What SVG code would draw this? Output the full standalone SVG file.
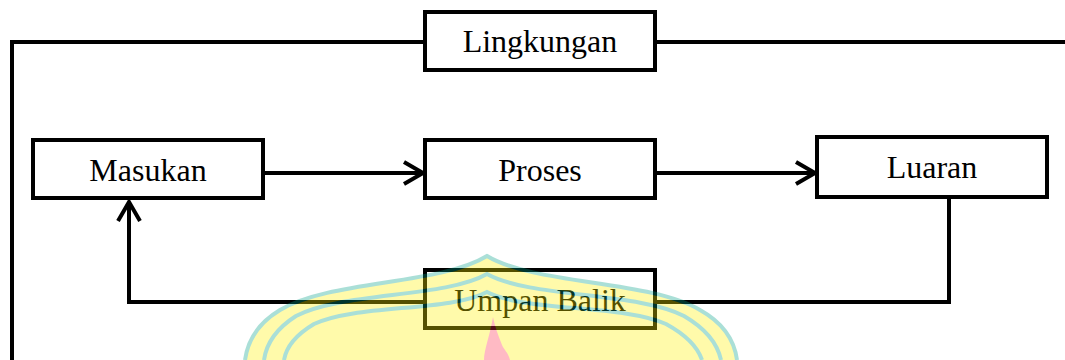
<svg xmlns="http://www.w3.org/2000/svg" width="1065" height="360" viewBox="0 0 1065 360">
<style>
.box{fill:#fff;stroke:#000;stroke-width:4}
.lbl{font-family:"Liberation Serif","Times New Roman",serif;font-size:32px;fill:#000;text-anchor:middle}
.ln{fill:none;stroke:#000;stroke-width:4}
</style>
<defs>
<marker id="arr" viewBox="0 0 30 30" refX="24" refY="15" markerWidth="30" markerHeight="30" markerUnits="userSpaceOnUse" orient="auto">
<path d="M5,4 L24,15 L5,26" fill="none" stroke="#000" stroke-width="4"/>
</marker>
</defs>
<g id="connectors">
<path class="ln" d="M425,42 H12 V360"/>
<path class="ln" d="M655,42 H1065"/>
<path class="ln" d="M263,173 H423" marker-end="url(#arr)"/>
<path class="ln" d="M655,173 H815" marker-end="url(#arr)"/>
<path class="ln" d="M949,198 V302 H655"/>
<path class="ln" d="M425,302 H129 V202" marker-end="url(#arr)"/>
</g>
<g id="lingkungan"><rect class="box" x="425" y="12" width="230" height="58"/><text class="lbl" x="540" y="52">Lingkungan</text></g>
<g id="masukan"><rect class="box" x="33" y="140" width="230" height="58"/><text class="lbl" x="148" y="181">Masukan</text></g>
<g id="proses"><rect class="box" x="425" y="140" width="230" height="58"/><text class="lbl" x="540" y="181">Proses</text></g>
<g id="luaran"><rect class="box" x="817" y="137" width="230" height="60"/><text class="lbl" x="932" y="178">Luaran</text></g>
<g id="umpan-balik"><rect class="box" x="425" y="270" width="230" height="58"/><text class="lbl" x="540" y="311">Umpan Balik</text></g>
<g id="watermark" opacity="0.33">
<path d="M487,256 C440,285 330,280 280,310 C255,325 247,345 245,360 L737,360 C735,345 727,325 700,310 C650,280 535,285 487,256 Z" fill="#fff200"/>
<g fill="none" stroke="#00a088" stroke-width="4">
<path d="M245,360 C247,345 255,325 280,310 C330,280 440,285 487,256 C535,285 650,280 700,310 C727,325 735,345 737,360"/>
<path d="M264,360 C266,346 274,330 296,316 C342,292 445,298 487,274 C530,298 638,292 684,316 C708,330 718,346 721,360"/>
<path d="M284,360 C286,348 294,336 314,324 C356,304 450,312 487,292 C525,312 622,304 666,324 C688,336 698,348 702,360"/>
</g>
<path d="M493,317 C490,335 484,350 484,360 L510,360 C508,352 504,350 502,345 C498,335 495,327 493,317 Z" fill="#ff3050"/>
</g>
</svg>
